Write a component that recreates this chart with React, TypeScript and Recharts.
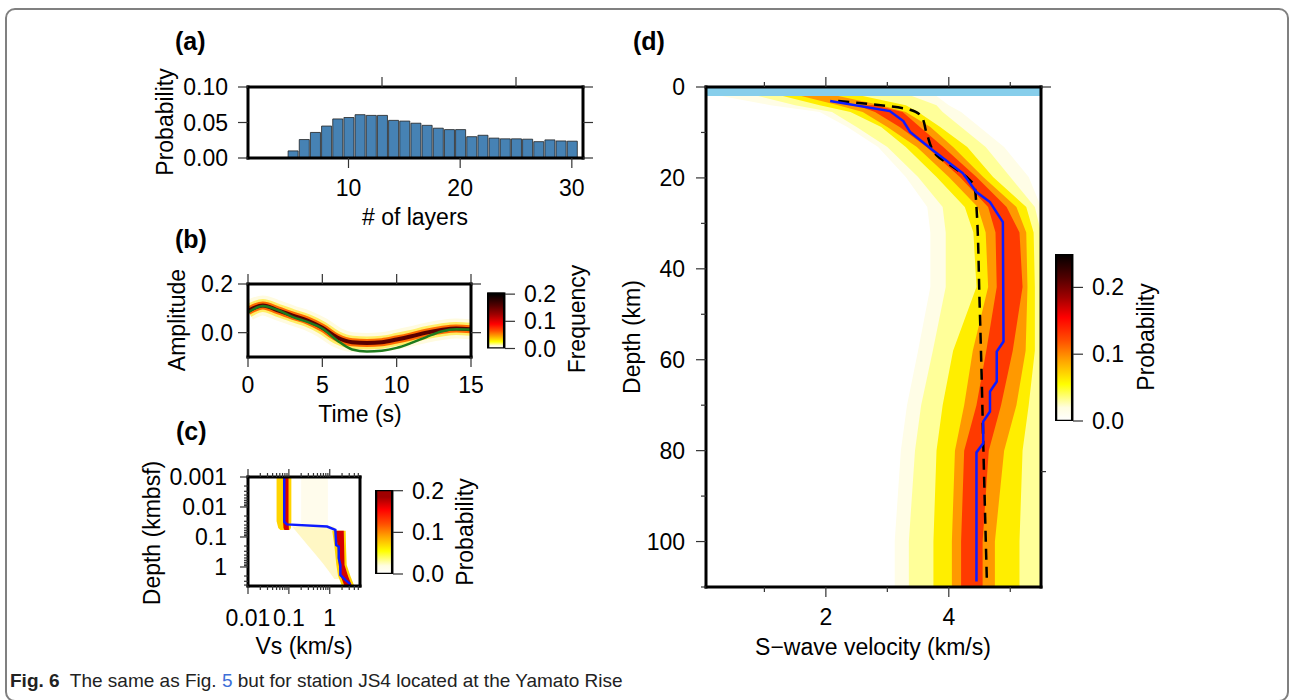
import React from "react";
import {
  BarChart,
  Bar,
  ComposedChart,
  Line,
  Area,
  XAxis,
  YAxis,
  ReferenceArea,
} from "recharts";

const FONT = '"Liberation Sans", Arial, Helvetica, sans-serif';

// (a) posterior of the number of layers
const layerCount = [5, 6, 7, 8, 9, 10, 11, 12, 13, 14, 15, 16, 17, 18, 19, 20, 21, 22, 23, 24, 25, 26, 27, 28, 29, 30];
const layerProb = [
  0.01, 0.026, 0.036, 0.045, 0.055, 0.057, 0.061, 0.06, 0.06, 0.053, 0.052, 0.049, 0.046,
  0.042, 0.04, 0.04, 0.03, 0.032, 0.028, 0.027, 0.027, 0.0265, 0.023, 0.0255, 0.024, 0.0237,
];

// (b) receiver function: centre of the frequency band and the synthetic (green)
const rfTime = [0, 1, 2, 3, 4, 5, 6, 7, 8, 9, 10, 11, 12, 13, 14, 15];
const rfMode = [0.089, 0.112, 0.092, 0.07, 0.05, 0.02, -0.02, -0.039, -0.042, -0.039, -0.028, -0.015, 0.0, 0.011, 0.017, 0.014];
const rfSynth = [0.083, 0.11, 0.093, 0.065, 0.044, 0.017, -0.032, -0.069, -0.077, -0.074, -0.0625, -0.042, -0.018, 0.005, 0.014, 0.0125];

// (c) shallow profile, log-log
const cBestDepth = [0.001, 0.031, 0.038, 0.045, 0.058, 0.185, 0.21, 0.51, 0.86, 1.85, 2.7, 3.78];
const cBestVs = [0.077, 0.077, 0.089, 0.86, 1.37, 1.44, 1.66, 1.66, 1.82, 1.82, 2.41, 3.2];
const cBandDepth = [0.001, 0.03, 0.05, 0.058, 0.06, 0.062, 0.2, 0.86, 2.0, 4.3];
const cOuter = [[0.05, 0.115], [0.05, 0.115], [0.055, 0.112], [0.062, 0.105], null, [1.15, 2.45], [1.3, 2.5], [1.45, 2.6], [1.6, 3.2], [2.0, 4.0]];
const cCore = [[0.072, 0.098], [0.072, 0.098], [0.074, 0.1], [0.078, 0.1], null, [1.4, 2.2], [1.55, 2.25], [1.66, 2.3], [1.85, 2.8], [2.3, 3.5]];
const cDiffuseDepth = [0.045, 0.2, 0.8, 2.5];
const cDiffuse = [[0.12, 1.3], [0.3, 1.4], [0.7, 1.5], [1.3, 1.7]];
const cHazeDepth = [0.001, 0.045];
const cHaze = [[0.2, 0.9], [0.2, 0.9]];

// (d) crust and upper mantle
const dBestDepth = [3.1, 5.3, 7.5, 9.9, 13.9, 19.0, 23.1, 25.3, 29.7, 56, 58.2, 64.8, 67, 71.4, 73.6, 78.4, 80.4, 108.8];
const dBestVs = [2.07, 3.04, 3.26, 3.37, 3.74, 4.23, 4.45, 4.67, 4.88, 4.89, 4.78, 4.78, 4.67, 4.67, 4.56, 4.56, 4.45, 4.45];
const dRefDepth = [3.1, 5.0, 6.6, 10.2, 15, 17.6, 19.8, 22, 26.4, 47, 61.5, 83.5, 109];
const dRefVs = [2.2, 3.37, 3.56, 3.64, 3.8, 4.07, 4.29, 4.42, 4.45, 4.5, 4.53, 4.57, 4.62];
const dBandDepth = [2, 4, 5.5, 8.8, 13.2, 19.8, 26.4, 32, 44, 58, 70, 80, 100, 110];
const dFaint = [[0.3, 3.8], [1.1, 4.0], [1.9, 4.2], [2.35, 4.5], [2.85, 4.9], [3.3, 5.3], [3.65, 5.5], [3.7, 5.5], [3.7, 5.5], [3.5, 5.5], [3.32, 5.5], [3.22, 5.5], [3.12, 5.5], [3.12, 5.5]];
const dOuter = [[0.9, 3.4], [1.5, 3.8], [2.1, 3.9], [2.5, 4.2], [3.0, 4.6], [3.5, 5.0], [3.9, 5.4], [3.95, 5.5], [3.95, 5.5], [3.74, 5.5], [3.55, 5.5], [3.45, 5.5], [3.35, 5.5], [3.35, 5.5]];
const dYellow = [[1.3, 2.6], [1.9, 3.3], [2.4, 3.5], [2.9, 3.86], [3.3, 4.3], [3.8, 4.72], [4.26, 5.26], [4.4, 5.38], [4.45, 5.4], [4.07, 5.4], [3.9, 5.3], [3.8, 5.2], [3.75, 5.15], [3.75, 5.15]];
const dOrange = [[1.6, 2.2], [2.2, 2.9], [2.6, 3.3], [3.0, 3.7], [3.48, 4.07], [4.0, 4.56], [4.47, 5.1], [4.6, 5.26], [4.64, 5.28], [4.39, 5.25], [4.25, 5.1], [4.1, 4.9], [4.05, 4.75], [4.05, 4.75]];
const dCore = [null, [2.5, 2.8], [2.8, 3.25], [3.2, 3.53], [3.64, 3.91], [4.18, 4.45], [4.64, 4.94], [4.76, 5.15], [4.78, 5.2], [4.61, 5.04], [4.45, 4.85], [4.25, 4.65], [4.2, 4.55], [4.2, 4.55]];

// colour scale (white - yellow - red - black)
const heatColors = ["#ffffff", "#fffde0", "#ffff00", "#ffa500", "#ff5000", "#ff0000", "#a00000", "#500000", "#000000"];
const probLevels = [0, 0.02, 0.055, 0.09, 0.12, 0.155, 0.185, 0.215, 0.25];
const freqLevels = [0, 0.01, 0.025, 0.045, 0.065, 0.09, 0.125, 0.16, 0.2];

const layerRows = layerCount.map((n, i) => ({ n, p: layerProb[i] }));
const rfRows = rfTime.map((t, i) => ({ t, band: rfMode[i], synth: rfSynth[i] }));
const cBestRows = cBestDepth.map((depth, i) => ({ depth, vs: cBestVs[i] }));
const cBandRows = cBandDepth.map((depth, i) => ({ depth, outer: cOuter[i], core: cCore[i] }));
const cDiffuseRows = cDiffuseDepth.map((depth, i) => ({ depth, r: cDiffuse[i] }));
const cHazeRows = cHazeDepth.map((depth, i) => ({ depth, r: cHaze[i] }));
const dBestRows = dBestDepth.map((depth, i) => ({ depth, vs: dBestVs[i] }));
const dRefRows = dRefDepth.map((depth, i) => ({ depth, vs: dRefVs[i] }));
const dBandRows = dBandDepth.map((depth, i) => ({
  depth,
  faint: dFaint[i],
  outer: dOuter[i],
  yellow: dYellow[i],
  orange: dOrange[i],
  core: dCore[i],
}));

// log ticks for panel (c)
const logTicks = (decades: number[], max: number) =>
  decades.flatMap((d) => [1, 2, 3, 4, 5, 6, 7, 8, 9].map((m) => +(d * m).toPrecision(1))).filter((v) => v <= max);
const cDepthTicks = logTicks([0.001, 0.01, 0.1, 1], 4.3);
const cVsTicks = logTicks([0.01, 0.1, 1], 5.5);
const isDecade = (v: number) => Math.abs(Math.log10(v) - Math.round(Math.log10(v))) < 1e-6;
const dDepthTicks = [0, 10, 20, 30, 40, 50, 60, 70, 80, 90, 100, 110];

const M0 = { top: 0, right: 0, bottom: 0, left: 0 };
const frameLine = { stroke: "#000", strokeWidth: 3, strokeLinecap: "square" as const };
const LW = 90; // width of the left axes

type Side = "left" | "right" | "top" | "bottom";
interface TickOpts {
  side: Side;
  size: number;
  margin: number;
  minor?: number;
  isMajor?: (v: number) => boolean;
  label?: (v: number) => string;
}

// tick with a short/long line and an optional label
const makeTick =
  ({ side, size, margin, minor, isMajor = () => true, label }: TickOpts) =>
  (props: any) => {
    const { x, y, payload } = props;
    const v = payload.value as number;
    const major = isMajor(v);
    const len = major ? size : minor ?? size;
    const text = major && label ? label(v) : null;
    const ln = { stroke: "#333", strokeWidth: 1.2 };
    const tx = { fontSize: 23, fontFamily: FONT, fill: "#000" };
    if (side === "left") {
      const ax = x + size + margin;
      return (
        <g>
          <line x1={ax - len} x2={ax} y1={y} y2={y} {...ln} />
          {text !== null && <text x={x} y={y} dy="0.35em" textAnchor="end" {...tx}>{text}</text>}
        </g>
      );
    }
    if (side === "right") {
      const ax = x - size - margin;
      return (
        <g>
          <line x1={ax} x2={ax + len} y1={y} y2={y} {...ln} />
          {text !== null && <text x={x} y={y} dy="0.35em" textAnchor="start" {...tx}>{text}</text>}
        </g>
      );
    }
    if (side === "top") {
      const ay = y + size + margin;
      return (
        <g>
          <line x1={x} x2={x} y1={ay - len} y2={ay} {...ln} />
        </g>
      );
    }
    const ay = y - size - margin;
    return (
      <g>
        <line x1={x} x2={x} y1={ay} y2={ay + len} {...ln} />
        {text !== null && <text x={x} y={y} dy="0.71em" textAnchor="middle" {...tx}>{text}</text>}
      </g>
    );
  };

const Txt = ({
  x,
  y,
  children,
  rotate = false,
  bold = false,
  size = 23,
  left = false,
}: {
  x: number;
  y: number;
  children: React.ReactNode;
  rotate?: boolean;
  bold?: boolean;
  size?: number;
  left?: boolean;
}) => (
  <div
    style={{
      position: "absolute",
      left: x,
      top: y,
      whiteSpace: "nowrap",
      fontFamily: FONT,
      fontSize: size,
      lineHeight: 1,
      fontWeight: bold ? 700 : 400,
      color: "#000",
      transform: left
        ? "translateY(-50%)"
        : `translate(-50%, -50%)${rotate ? " rotate(-90deg)" : ""}`,
    }}
  >
    {children}
  </div>
);

const ColorBarShape = (props: any) => {
  const { x, y, width, height, gradId, tip } = props;
  return (
    <g>
      <rect x={x} y={y} width={width} height={height} fill={`url(#${gradId})`} stroke="#000" strokeWidth={2.5} />
      <path d={`M${x - 1.25},${y} L${x + width / 2},${y - tip} L${x + width + 1.25},${y} Z`} fill="#000" />
    </g>
  );
};

const ColorBar = ({
  left,
  top,
  barH,
  tip,
  max,
  levels,
  gradId,
}: {
  left: number;
  top: number;
  barH: number;
  tip: number;
  max: number;
  levels: number[];
  gradId: string;
}) => {
  const rows = [{ k: "cb", v: max }];
  const cbTicks = [0, 0.1, 0.2];
  return (
    <div style={{ position: "absolute", left, top: top - tip - 4 }}>
      <BarChart
        width={80}
        height={barH + tip + 20}
        data={rows}
        margin={{ top: tip + 4, right: 0, bottom: 16, left: 0 }}
        barCategoryGap={0}
      >
        <defs>
          <linearGradient id={gradId} x1="0" y1="1" x2="0" y2="0">
            {levels.map((lv, i) =>
              lv <= max ? <stop key={i} offset={lv / max} stopColor={heatColors[i]} /> : null
            )}
          </linearGradient>
        </defs>
        <XAxis dataKey="k" hide />
        <YAxis
          orientation="right"
          type="number"
          domain={[0, max]}
          ticks={cbTicks}
          allowDataOverflow
          width={62}
          axisLine={false}
          tickLine={false}
          tickSize={10}
          tickMargin={9}
          interval={0}
          tick={makeTick({ side: "right", size: 10, margin: 9, label: (v) => v.toFixed(1) })}
        />
        <Bar
          dataKey="v"
          barSize={18}
          isAnimationActive={false}
          shape={(p: any) => <ColorBarShape {...p} gradId={gradId} tip={tip} />}
        />
      </BarChart>
    </div>
  );
};

export default function App() {
  return (
    <div style={{ position: "fixed", left: 0, top: 0, width: 1290, height: 700, overflow: "hidden", background: "#fff" }}>
      <div
        style={{
          position: "absolute",
          left: 5,
          top: 8,
          width: 1284,
          height: 694,
          boxSizing: "border-box",
          border: "2px solid #808080",
          borderRadius: 10,
        }}
      />

      {/* (a) */}
      <div style={{ position: "absolute", left: 248 - LW, top: 75 }}>
        <BarChart width={LW + 335 + 12} height={128} data={layerRows} margin={M0} barCategoryGap={0} barGap={0}>
          <XAxis
            dataKey="n"
            type="number"
            domain={[1, 31]}
            ticks={[10, 20, 30]}
            allowDataOverflow
            height={45}
            axisLine={frameLine}
            tickLine={false}
            tickSize={10}
            tickMargin={12}
            interval={0}
            tick={makeTick({ side: "bottom", size: 10, margin: 12, label: (v) => String(v) })}
          />
          <XAxis
            xAxisId="top"
            orientation="top"
            type="number"
            domain={[1, 31]}
            ticks={[10, 20, 30]}
            allowDataOverflow
            height={12}
            axisLine={frameLine}
            tickLine={false}
            tickSize={10}
            tickMargin={0}
            interval={0}
            tick={makeTick({ side: "top", size: 10, margin: 0 })}
          />
          <YAxis
            type="number"
            domain={[0, 0.1]}
            ticks={[0, 0.05, 0.1]}
            allowDataOverflow
            width={LW}
            axisLine={frameLine}
            tickLine={false}
            tickSize={10}
            tickMargin={10}
            interval={0}
            tick={makeTick({ side: "left", size: 10, margin: 10, label: (v) => v.toFixed(2) })}
          />
          <YAxis
            yAxisId="right"
            orientation="right"
            type="number"
            domain={[0, 0.1]}
            ticks={[0, 0.05, 0.1]}
            allowDataOverflow
            width={12}
            axisLine={frameLine}
            tickLine={false}
            tickSize={10}
            tickMargin={0}
            interval={0}
            tick={makeTick({ side: "right", size: 10, margin: 0 })}
          />
          <Bar dataKey="p" fill="#4682b4" stroke="#222" strokeWidth={0.8} barSize={11.17} isAnimationActive={false} />
        </BarChart>
      </div>

      {/* (b) */}
      <div style={{ position: "absolute", left: 248 - LW, top: 272 }}>
        <ComposedChart width={LW + 223 + 12} height={130} data={rfRows} margin={M0}>
          <XAxis
            dataKey="t"
            type="number"
            domain={[0, 15]}
            ticks={[0, 5, 10, 15]}
            allowDataOverflow
            height={45}
            axisLine={frameLine}
            tickLine={false}
            tickSize={10}
            tickMargin={10}
            interval={0}
            tick={makeTick({ side: "bottom", size: 10, margin: 10, label: (v) => String(v) })}
          />
          <XAxis
            xAxisId="top"
            orientation="top"
            type="number"
            domain={[0, 15]}
            ticks={[0, 5, 10, 15]}
            allowDataOverflow
            height={12}
            axisLine={frameLine}
            tickLine={false}
            tickSize={10}
            tickMargin={0}
            interval={0}
            tick={makeTick({ side: "top", size: 10, margin: 0 })}
          />
          <YAxis
            type="number"
            domain={[-0.1, 0.2]}
            ticks={[0, 0.2]}
            allowDataOverflow
            width={LW}
            axisLine={frameLine}
            tickLine={false}
            tickSize={10}
            tickMargin={5}
            interval={0}
            tick={makeTick({ side: "left", size: 10, margin: 5, label: (v) => v.toFixed(1) })}
          />
          <YAxis
            yAxisId="right"
            orientation="right"
            type="number"
            domain={[-0.1, 0.2]}
            ticks={[0, 0.2]}
            allowDataOverflow
            width={12}
            axisLine={frameLine}
            tickLine={false}
            tickSize={10}
            tickMargin={0}
            interval={0}
            tick={makeTick({ side: "right", size: 10, margin: 0 })}
          />
          <Line dataKey="band" type="monotone" stroke="#fffbe0" strokeWidth={20} dot={false} activeDot={false} isAnimationActive={false} />
          <Line dataKey="band" type="monotone" stroke="#ffee66" strokeWidth={13} dot={false} activeDot={false} isAnimationActive={false} />
          <Line dataKey="band" type="monotone" stroke="#ff6a00" strokeWidth={8} dot={false} activeDot={false} isAnimationActive={false} />
          <Line dataKey="band" type="monotone" stroke="#5a0000" strokeWidth={4} dot={false} activeDot={false} isAnimationActive={false} />
          <Line dataKey="synth" type="monotone" stroke="#1e7b1e" strokeWidth={2.5} dot={false} activeDot={false} isAnimationActive={false} />
        </ComposedChart>
      </div>

      {/* (c) */}
      <div style={{ position: "absolute", left: 248 - LW, top: 457 }}>
        <ComposedChart layout="vertical" width={LW + 112 + 12} height={174} data={cBandRows} margin={M0}>
          <XAxis
            type="number"
            scale="log"
            domain={[0.01, 5.5]}
            ticks={cVsTicks}
            allowDataOverflow
            height={45}
            axisLine={frameLine}
            tickLine={false}
            tickSize={8}
            tickMargin={16}
            interval={0}
            tick={makeTick({ side: "bottom", size: 8, minor: 4, margin: 16, isMajor: isDecade, label: (v) => String(v) })}
          />
          <XAxis
            xAxisId="top"
            orientation="top"
            type="number"
            scale="log"
            domain={[0.01, 5.5]}
            ticks={cVsTicks}
            allowDataOverflow
            height={20}
            axisLine={frameLine}
            tickLine={false}
            tickSize={8}
            tickMargin={0}
            interval={0}
            tick={makeTick({ side: "top", size: 8, minor: 4, margin: 0, isMajor: isDecade })}
          />
          <YAxis
            type="number"
            dataKey="depth"
            scale="log"
            domain={[0.001, 4.3]}
            ticks={cDepthTicks}
            allowDataOverflow
            width={LW}
            axisLine={frameLine}
            tickLine={false}
            tickSize={8}
            tickMargin={13}
            interval={0}
            tick={makeTick({ side: "left", size: 8, minor: 4, margin: 13, isMajor: isDecade, label: (v) => String(v) })}
          />
          <YAxis
            yAxisId="right"
            orientation="right"
            type="number"
            scale="log"
            domain={[0.001, 4.3]}
            ticks={cDepthTicks}
            allowDataOverflow
            width={12}
            axisLine={frameLine}
            tickLine={false}
            tickSize={8}
            tickMargin={0}
            interval={0}
            tick={makeTick({ side: "right", size: 8, minor: 4, margin: 0, isMajor: isDecade })}
          />
          <Area data={cHazeRows} dataKey="r" type="linear" fill="#fffcec" fillOpacity={1} stroke="none" isAnimationActive={false} />
          <Area data={cDiffuseRows} dataKey="r" type="monotone" fill="#fff7c4" fillOpacity={1} stroke="none" isAnimationActive={false} />
          <Area dataKey="outer" type="linear" fill="#ffd400" fillOpacity={1} stroke="none" isAnimationActive={false} />
          <Area dataKey="core" type="linear" fill="#d40000" fillOpacity={1} stroke="none" isAnimationActive={false} />
          <Line data={cBestRows} dataKey="vs" type="linear" stroke="#0d1bff" strokeWidth={2.5} dot={false} activeDot={false} isAnimationActive={false} />
        </ComposedChart>
      </div>

      {/* (d) */}
      <div style={{ position: "absolute", left: 706 - LW, top: 75 }}>
        <ComposedChart layout="vertical" width={LW + 335 + 14} height={557} data={dBandRows} margin={M0}>
          <XAxis
            type="number"
            domain={[0.05, 5.5]}
            ticks={[1, 2, 3, 4, 5]}
            allowDataOverflow
            height={45}
            axisLine={frameLine}
            tickLine={false}
            tickSize={10}
            tickMargin={12}
            interval={0}
            tick={makeTick({ side: "bottom", size: 10, minor: 5, margin: 12, isMajor: (v) => v % 2 === 0, label: (v) => String(v) })}
          />
          <XAxis
            xAxisId="top"
            orientation="top"
            type="number"
            domain={[0.05, 5.5]}
            ticks={[1, 2, 3, 4, 5]}
            allowDataOverflow
            height={12}
            axisLine={frameLine}
            tickLine={false}
            tickSize={10}
            tickMargin={0}
            interval={0}
            tick={makeTick({ side: "top", size: 10, minor: 5, margin: 0, isMajor: (v) => v % 2 === 0 })}
          />
          <YAxis
            type="number"
            dataKey="depth"
            domain={[0, 110]}
            ticks={dDepthTicks}
            allowDataOverflow
            width={LW}
            axisLine={frameLine}
            tickLine={false}
            tickSize={10}
            tickMargin={11}
            interval={0}
            tick={makeTick({ side: "left", size: 10, minor: 5, margin: 11, isMajor: (v) => v % 20 === 0, label: (v) => String(v) })}
          />
          <YAxis
            yAxisId="right"
            orientation="right"
            type="number"
            domain={[0, 110]}
            ticks={dDepthTicks}
            allowDataOverflow
            width={14}
            axisLine={frameLine}
            tickLine={false}
            tickSize={10}
            tickMargin={0}
            interval={0}
            tick={makeTick({ side: "right", size: 10, minor: 5, margin: 0, isMajor: (v) => v % 20 === 0 })}
          />
          <Area dataKey="faint" type="linear" fill="#fffde6" fillOpacity={1} stroke="none" isAnimationActive={false} />
          <Area dataKey="outer" type="linear" fill="#ffff99" fillOpacity={1} stroke="none" isAnimationActive={false} />
          <Area dataKey="yellow" type="linear" fill="#ffee00" fillOpacity={1} stroke="none" isAnimationActive={false} />
          <Area dataKey="orange" type="linear" fill="#ff9900" fillOpacity={1} stroke="none" isAnimationActive={false} />
          <Area dataKey="core" type="linear" fill="#ff3a00" fillOpacity={1} stroke="none" isAnimationActive={false} />
          <ReferenceArea x1={0.05} x2={5.5} y1={0} y2={2} fill="#87ceeb" fillOpacity={1} stroke="none" />
          <Line data={dRefRows} dataKey="vs" type="monotone" stroke="#000" strokeWidth={2.5} strokeDasharray="11 7" dot={false} activeDot={false} isAnimationActive={false} />
          <Line data={dBestRows} dataKey="vs" type="linear" stroke="#0d1bff" strokeWidth={2.5} dot={false} activeDot={false} isAnimationActive={false} />
        </ComposedChart>
      </div>

      {/* colour bars */}
      <ColorBar left={487} top={292} barH={56} tip={8.5} max={0.206} levels={freqLevels} gradId="cbFreq" />
      <ColorBar left={375} top={490} barH={84} tip={10} max={0.2017} levels={probLevels} gradId="cbProbC" />
      <ColorBar left={1055} top={254} barH={167} tip={11} max={0.25} levels={probLevels} gradId="cbProbD" />

      {/* panel letters and axis titles */}
      <Txt x={175} y={41} bold size={25} left>(a)</Txt>
      <Txt x={175} y={239} bold size={25} left>(b)</Txt>
      <Txt x={176} y={431} bold size={25} left>(c)</Txt>
      <Txt x={633} y={41} bold size={25} left>(d)</Txt>

      <Txt x={165} y={122} rotate>Probability</Txt>
      <Txt x={415} y={217}># of layers</Txt>
      <Txt x={177} y={320} rotate>Amplitude</Txt>
      <Txt x={360} y={414}>Time (s)</Txt>
      <Txt x={577} y={319} rotate>Frequency</Txt>
      <Txt x={152} y={533} rotate>Depth (kmbsf)</Txt>
      <Txt x={304} y={646}>Vs (km/s)</Txt>
      <Txt x={465} y={532} rotate>Probability</Txt>
      <Txt x={632} y={337} rotate>Depth (km)</Txt>
      <Txt x={873} y={647}>S−wave velocity (km/s)</Txt>
      <Txt x={1146} y={337} rotate>Probability</Txt>

      {/* caption */}
      <div
        style={{
          position: "absolute",
          left: 10,
          top: 670,
          fontFamily: FONT,
          fontSize: 19,
          lineHeight: "22px",
          whiteSpace: "nowrap",
          color: "#222",
        }}
      >
        <b>Fig. 6</b>&nbsp; The same as Fig. <span style={{ color: "#3d6fd8" }}>5</span> but for station JS4 located at the
        Yamato Rise
      </div>
    </div>
  );
}
